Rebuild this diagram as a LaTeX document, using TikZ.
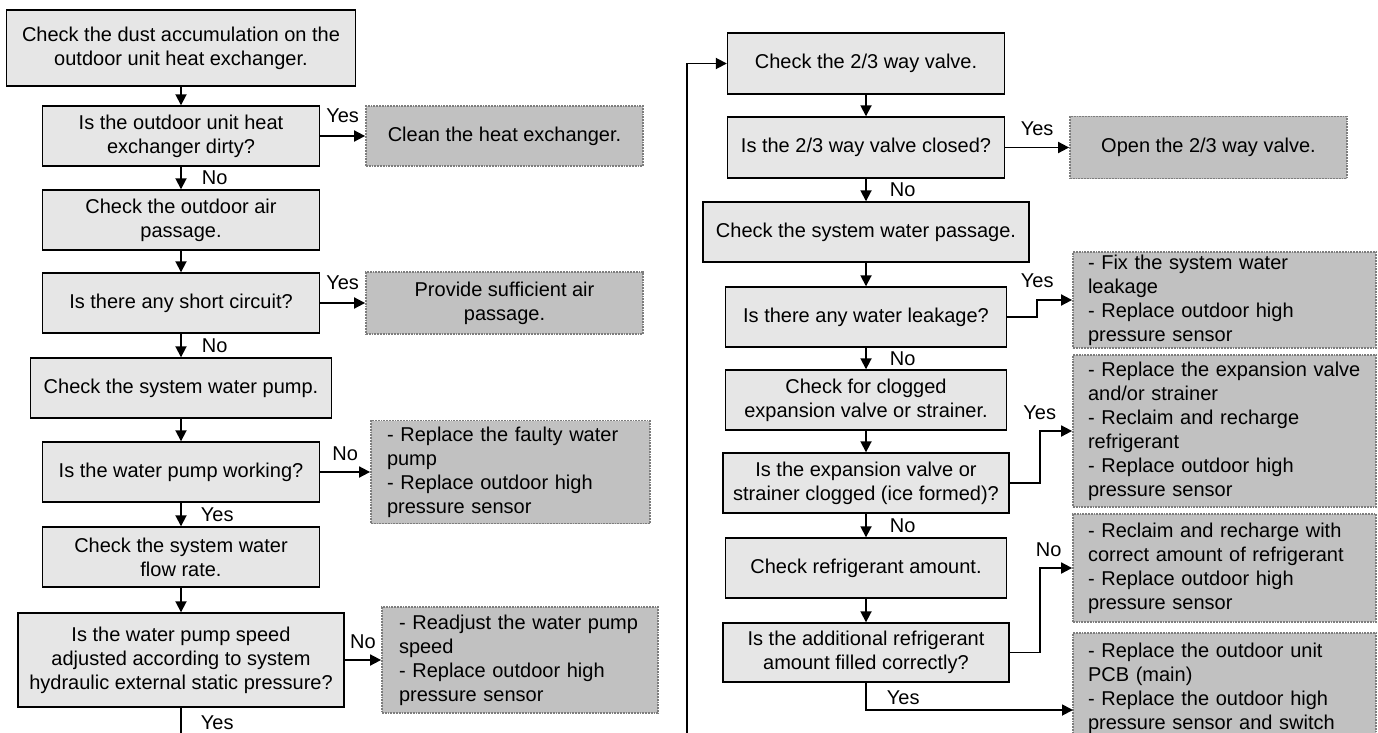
\documentclass[tikz,border=0pt]{standalone}
\usepackage{fontspec}
\setmainfont{Liberation Sans}
\usetikzlibrary{arrows.meta}
\definecolor{boxfill}{RGB}{230,230,230}
\definecolor{fixfill}{RGB}{193,193,193}
\definecolor{fixline}{RGB}{125,125,125}

\begin{document}
\begin{tikzpicture}[x=1pt, y=-1pt,
    txt/.style={font=\fontsize{20}{24}\selectfont},
    check/.style={txt, draw, line width=1.4pt, fill=boxfill, align=center, inner sep=0pt,
      minimum width=277, minimum height=60},
    fix/.style={txt, draw=fixline, densely dotted, line width=1.8pt, fill=fixfill, inner ysep=0pt},
    fixl/.style={fix, align=left, inner xsep=15pt, text width=273pt, minimum height=96},
    fixc/.style={fix, align=center, minimum width=277, minimum height=60},
    lab/.style={txt, inner sep=0pt},
    arr/.style={line width=1.8pt, -{Triangle[length=11pt,width=11pt]}},
    line/.style={line width=1.8pt}]
        \useasboundingbox (0,0) rectangle (1378,733);
        \clip (0,0) rectangle (1378,733);

        \node[check, minimum width=349, minimum height=76] (L1) at (181,48) {Check the dust accumulation on the\\outdoor unit heat exchanger.};
        \node[check] (L2) at (181,136) {Is the outdoor unit heat\\exchanger dirty?};
        \node[check] (L3) at (181,220) {Check the outdoor air\\passage.};
        \node[check] (L4) at (181,303) {Is there any short circuit?};
        \node[check, minimum width=301] (L5) at (181,388) {Check the system water pump.};
        \node[check] (L6) at (181,472) {Is the water pump working?};
        \node[check] (L7) at (181,557) {Check the system water\\flow rate.};
        \node[check, minimum width=326, minimum height=94] (L8) at (181,660) {Is the water pump speed\\adjusted according to system\\hydraulic external static pressure?};

        \node[fixc] (G1) at (504.5,136) {Clean the heat exchanger.};
        \node[fixc, minimum height=62] (G2) at (504.5,303) {Provide sufficient air\\passage.};
        \node[fixl, text width=247pt, inner xsep=16pt, minimum height=103] (G3) at (510.5,472) {- Replace the faulty water\\pump\\- Replace outdoor high\\pressure sensor};
        \node[fixl, text width=242pt, inner xsep=17pt, minimum height=106] (G4) at (520,660) {- Readjust the water pump\\speed\\- Replace outdoor high\\pressure sensor};

        \node[check, minimum height=61] (R1) at (866,63.5) {Check the 2/3 way valve.};
        \node[check, minimum height=61] (R2) at (866,147.5) {Is the 2/3 way valve closed?};
        \node[check, minimum width=326] (R3) at (866,232) {Check the system water passage.};
        \node[check, minimum width=281] (R4) at (866,317) {Is there any water leakage?};
        \node[check, minimum width=281] (R5) at (866,400) {Check for clogged\\expansion valve or strainer.};
        \node[check, minimum width=286] (R6) at (866,483) {Is the expansion valve or\\strainer clogged (ice formed)?};
        \node[check, minimum width=281] (R7) at (866,568) {Check refrigerant amount.};
        \node[check, minimum width=286, minimum height=59] (R8) at (866,652.5) {Is the additional refrigerant\\amount filled correctly?};

        \node[fixc, minimum height=62] (OP) at (1208.5,147.5) {Open the 2/3 way valve.};
        \node[fixl] (GR1) at (1224.5,300) {- Fix the system water\\leakage\\- Replace outdoor high\\pressure sensor};
        \node[fixl, minimum height=152] (GR2) at (1224.5,431) {- Replace the expansion valve\\and/or strainer\\- Reclaim and recharge\\refrigerant\\- Replace outdoor high\\pressure sensor};
        \node[fixl, minimum height=108] (GR3) at (1224.5,568) {- Reclaim and recharge with\\correct amount of refrigerant\\- Replace outdoor high\\pressure sensor};
        \node[fixl, minimum height=110] (GR4) at (1224.5,688) {- Replace the outdoor unit\\PCB (main)\\- Replace the outdoor high\\pressure sensor and switch};

        \coordinate (leftout) at (181,745);
        \coordinate (loopin) at (687,745);
        \coordinate (yesend) at (1073,710);

        \draw[arr] (L1) -- (L2);
        \draw[arr] (L2) -- node[lab, right=20pt] {No} (L3);
        \draw[arr] (L3) -- (L4);
        \draw[arr] (L4) -- node[lab, right=20pt] {No} (L5);
        \draw[arr] (L5) -- (L6);
        \draw[arr] (L6) -- node[lab, right=19pt] {Yes} (L7);
        \draw[arr] (L7) -- (L8);
        \draw[line] (L8) -- node[lab, pos=0.4, right=19pt] {Yes} (leftout);
        \draw[arr] (L2) -- node[lab, above=12pt] {Yes} (G1);
        \draw[arr] (L4) -- node[lab, above=12pt] {Yes} (G2);
        \draw[arr] (L6) -- node[lab, above=10pt] {No} (G3);
        \draw[arr] (L8) -- node[lab, above=10pt] {No} (G4);

        \draw[arr] (loopin) |- (R1.west);
        \draw[arr] (R1) -- (R2);
        \draw[arr] (R2) -- node[lab, right=23pt] {No} (R3);
        \draw[arr] (R3) -- (R4);
        \draw[arr] (R4) -- node[lab, right=23pt] {No} (R5);
        \draw[arr] (R5) -- (R6);
        \draw[arr] (R6) -- node[lab, right=23pt] {No} (R7);
        \draw[arr] (R7) -- (R8);
        \draw[arr] (R2) -- node[lab, above=11pt] {Yes} (OP);
        \draw[arr] (R4.east) -- ++(30,0) |- node[lab, pos=0.5, above=11pt] {Yes} (GR1.west);
        \draw[arr] (R6.east) -- ++(30,0) |- node[lab, pos=0.5, above=10pt] {Yes} (GR2.west);
        \draw[arr] (R8.east) -- ++(30,0) |- node[lab, pos=0.5, above=10pt, xshift=9pt] {No} (GR3.west);
        \draw[arr] (R8) |- node[lab, pos=0.59, above=4pt] {Yes} (yesend);
\end{tikzpicture}
\end{document}
